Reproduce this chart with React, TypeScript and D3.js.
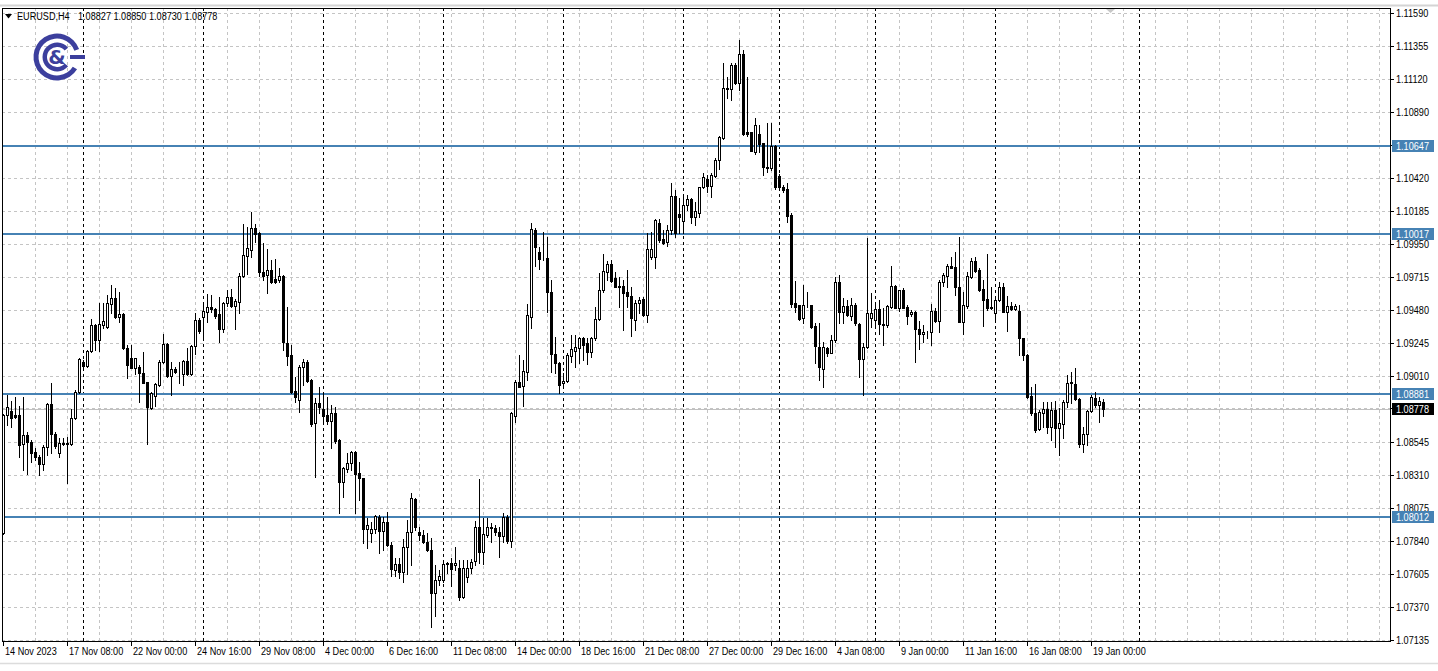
import React from 'react';
import * as d3 from 'd3';

// ---- Data (EURUSD H4) ----
const opens = [
  1.07895, 1.08733, 1.08762, 1.08733, 1.08733, 1.08525, 1.08591, 1.08544, 1.08473, 1.08437,
  1.08383, 1.08509, 1.08809, 1.08600, 1.08461, 1.08532, 1.08530, 1.08525, 1.08710, 1.08894,
  1.09112, 1.09083, 1.09188, 1.09373, 1.09266, 1.09373, 1.09361, 1.09520, 1.09563, 1.09432,
  1.09449, 1.09207, 1.09136, 1.09069, 1.09077, 1.09029, 1.08965, 1.08785, 1.08871, 1.08946,
  1.09108, 1.09238, 1.09013, 1.09058, 1.09025, 1.09022, 1.09117, 1.09025, 1.09224, 1.09408,
  1.09432, 1.09467, 1.09498, 1.09486, 1.09449, 1.09342, 1.09532, 1.09574, 1.09508, 1.09538,
  1.09721, 1.09863, 1.09906, 1.10060, 1.10024, 1.09752, 1.09728, 1.09764, 1.09700, 1.09693,
  1.09721, 1.09247, 1.09160, 1.08904, 1.08840, 1.09077, 1.09112, 1.08982, 1.08674, 1.08816,
  1.08774, 1.08733, 1.08693, 1.08745, 1.08556, 1.08255, 1.08348, 1.08390, 1.08473, 1.08319,
  1.08284, 1.07921, 1.07893, 1.07921, 1.08011, 1.07911, 1.07976, 1.07810, 1.07632, 1.07672,
  1.07615, 1.07798, 1.07900, 1.08137, 1.07905, 1.07881, 1.07833, 1.07774, 1.07467, 1.07561,
  1.07561, 1.07684, 1.07684, 1.07670, 1.07644, 1.07442, 1.07580, 1.07649, 1.07696, 1.07935,
  1.07762, 1.07881, 1.07933, 1.07933, 1.07905, 1.07876, 1.08011, 1.07841, 1.08726, 1.08970,
  1.08941, 1.09041, 1.09432, 1.10048, 1.09894, 1.09842, 1.09847, 1.09605, 1.09167, 1.09101,
  1.08958, 1.08975, 1.09155, 1.09190, 1.09212, 1.09278, 1.09243, 1.09183, 1.09278, 1.09413,
  1.09622, 1.09752, 1.09806, 1.09705, 1.09645, 1.09650, 1.09610, 1.09579, 1.09408, 1.09527,
  1.09556, 1.09444, 1.09858, 1.09858, 1.10100, 1.09982, 1.09965, 1.10048, 1.10290, 1.10162,
  1.10114, 1.10225, 1.10266, 1.10142, 1.10171, 1.10351, 1.10408, 1.10363, 1.10434, 1.10545,
  1.10699, 1.11055, 1.11050, 1.11220, 1.11090, 1.11298, 1.10742, 1.10742, 1.10604, 1.10728,
  1.10664, 1.10498, 1.10486, 1.10645, 1.10432, 1.10351, 1.10339, 1.10154, 1.09527, 1.09513,
  1.09420, 1.09513, 1.09513, 1.09366, 1.09214, 1.09062, 1.09207, 1.09176, 1.09266, 1.09676,
  1.09468, 1.09508, 1.09437, 1.09515, 1.09380, 1.09129, 1.09214, 1.09420, 1.09408, 1.09484,
  1.09380, 1.09373, 1.09498, 1.09650, 1.09496, 1.09622, 1.09503, 1.09449, 1.09463, 1.09344,
  1.09307, 1.09321, 1.09321, 1.09472, 1.09403, 1.09676, 1.09721, 1.09792, 1.09783, 1.09645,
  1.09396, 1.09508, 1.09716, 1.09828, 1.09764, 1.09629, 1.09558, 1.09496, 1.09456, 1.09551,
  1.09645, 1.09468, 1.09508, 1.09484, 1.09472, 1.09278, 1.09160, 1.08869, 1.08745, 1.08632,
  1.08745, 1.08774, 1.08650, 1.08769, 1.08638, 1.08669, 1.08823, 1.08958, 1.08956, 1.08847,
  1.08525, 1.08596, 1.08762, 1.08857, 1.08804, 1.08827,
];

const highs = [
  1.08740, 1.08875, 1.08833, 1.08860, 1.08799, 1.08860, 1.08615, 1.08556, 1.08497, 1.08449,
  1.08520, 1.08816, 1.08958, 1.08615, 1.08568, 1.08568, 1.08579, 1.08776, 1.08911, 1.09141,
  1.09124, 1.09195, 1.09415, 1.09378, 1.09527, 1.09527, 1.09586, 1.09657, 1.09634, 1.09610,
  1.09456, 1.09230, 1.09230, 1.09141, 1.09089, 1.09179, 1.08970, 1.08899, 1.08963, 1.09124,
  1.09309, 1.09243, 1.09108, 1.09077, 1.09112, 1.09124, 1.09207, 1.09230, 1.09456, 1.09420,
  1.09515, 1.09593, 1.09586, 1.09491, 1.09574, 1.09538, 1.09622, 1.09627, 1.09556, 1.09740,
  1.10090, 1.10071, 1.10173, 1.10090, 1.10036, 1.09953, 1.09911, 1.09835, 1.09840, 1.09776,
  1.09728, 1.09503, 1.09230, 1.09006, 1.09089, 1.09129, 1.09124, 1.08987, 1.08852, 1.08935,
  1.08887, 1.08863, 1.08805, 1.08788, 1.08561, 1.08367, 1.08461, 1.08480, 1.08480, 1.08402,
  1.08289, 1.08000, 1.07976, 1.08023, 1.08023, 1.08011, 1.08047, 1.07833, 1.07715, 1.07715,
  1.07850, 1.07988, 1.08177, 1.08142, 1.07940, 1.07916, 1.07893, 1.07857, 1.07668, 1.07632,
  1.07693, 1.07690, 1.07719, 1.07798, 1.07703, 1.07703, 1.07703, 1.07708, 1.07983, 1.08279,
  1.08000, 1.08000, 1.07964, 1.07952, 1.07940, 1.08040, 1.08023, 1.08757, 1.08982, 1.09160,
  1.09124, 1.09522, 1.10095, 1.10060, 1.09930, 1.10036, 1.09996, 1.09693, 1.09290, 1.09112,
  1.09035, 1.09172, 1.09302, 1.09302, 1.09290, 1.09290, 1.09278, 1.09290, 1.09503, 1.09740,
  1.09877, 1.09828, 1.09835, 1.09752, 1.09716, 1.09693, 1.09764, 1.09645, 1.09551, 1.09570,
  1.09574, 1.10024, 1.10036, 1.10126, 1.10124, 1.10048, 1.10083, 1.10380, 1.10332, 1.10273,
  1.10297, 1.10297, 1.10273, 1.10249, 1.10356, 1.10451, 1.10439, 1.10451, 1.10557, 1.10716,
  1.11232, 1.11137, 1.11232, 1.11232, 1.11398, 1.11327, 1.11133, 1.10746, 1.10841, 1.10794,
  1.10668, 1.10806, 1.10806, 1.10652, 1.10446, 1.10368, 1.10380, 1.10171, 1.09688, 1.09515,
  1.09657, 1.09610, 1.09515, 1.09385, 1.09385, 1.09254, 1.09219, 1.09302, 1.09716, 1.09728,
  1.09563, 1.09551, 1.09563, 1.09532, 1.09385, 1.09243, 1.09989, 1.09598, 1.09527, 1.09551,
  1.09491, 1.09515, 1.09792, 1.09657, 1.09625, 1.09634, 1.09515, 1.09480, 1.09472, 1.09401,
  1.09373, 1.09330, 1.09520, 1.09491, 1.09693, 1.09740, 1.09804, 1.09854, 1.09894, 1.09996,
  1.09610, 1.09752, 1.09847, 1.09854, 1.09776, 1.09693, 1.09875, 1.09645, 1.09574, 1.09676,
  1.09669, 1.09582, 1.09534, 1.09520, 1.09515, 1.09283, 1.09165, 1.08935, 1.08952, 1.08769,
  1.08828, 1.08828, 1.08828, 1.08833, 1.08785, 1.08840, 1.09017, 1.09041, 1.09070, 1.08852,
  1.08650, 1.08769, 1.08875, 1.08895, 1.08863, 1.08850,
];

const lows = [
  1.07890, 1.08662, 1.08650, 1.08710, 1.08437, 1.08343, 1.08312, 1.08402, 1.08414, 1.08307,
  1.08343, 1.08449, 1.08461, 1.08497, 1.08437, 1.08520, 1.08248, 1.08520, 1.08704, 1.08887,
  1.09077, 1.09077, 1.09183, 1.09195, 1.09188, 1.09349, 1.09349, 1.09456, 1.09425, 1.09396,
  1.09202, 1.08998, 1.09065, 1.09022, 1.08828, 1.08958, 1.08525, 1.08776, 1.08799, 1.08941,
  1.09101, 1.09006, 1.08875, 1.09029, 1.08958, 1.08946, 1.09018, 1.09018, 1.09167, 1.09314,
  1.09266, 1.09396, 1.09467, 1.09420, 1.09254, 1.09325, 1.09508, 1.09503, 1.09342, 1.09456,
  1.09716, 1.09735, 1.09854, 1.09965, 1.09721, 1.09693, 1.09598, 1.09669, 1.09669, 1.09681,
  1.09195, 1.09089, 1.08887, 1.08828, 1.08757, 1.08946, 1.08970, 1.08655, 1.08291, 1.08745,
  1.08669, 1.08669, 1.08497, 1.08532, 1.08040, 1.08149, 1.08331, 1.08343, 1.08040, 1.08130,
  1.07822, 1.07786, 1.07833, 1.07893, 1.07751, 1.07774, 1.07803, 1.07589, 1.07589, 1.07573,
  1.07549, 1.07604, 1.07668, 1.07916, 1.07845, 1.07822, 1.07769, 1.07229, 1.07305, 1.07526,
  1.07549, 1.07609, 1.07517, 1.07632, 1.07419, 1.07431, 1.07549, 1.07609, 1.07668, 1.07680,
  1.07673, 1.07869, 1.07833, 1.07881, 1.07726, 1.07833, 1.07822, 1.07798, 1.08686, 1.08930,
  1.08798, 1.08982, 1.09349, 1.09792, 1.09769, 1.09835, 1.09468, 1.09041, 1.09029, 1.08887,
  1.08923, 1.08970, 1.09112, 1.09077, 1.09101, 1.09124, 1.09096, 1.09148, 1.09266, 1.09408,
  1.09610, 1.09693, 1.09681, 1.09641, 1.09498, 1.09337, 1.09503, 1.09295, 1.09337, 1.09460,
  1.09437, 1.09396, 1.09842, 1.09776, 1.09965, 1.09948, 1.09934, 1.10019, 1.10000, 1.10024,
  1.10029, 1.10190, 1.10095, 1.10083, 1.10142, 1.10344, 1.10320, 1.10285, 1.10427, 1.10479,
  1.10692, 1.10984, 1.10972, 1.11083, 1.11043, 1.10723, 1.10716, 1.10609, 1.10588, 1.10604,
  1.10439, 1.10462, 1.10474, 1.10337, 1.10337, 1.10320, 1.10107, 1.09503, 1.09467, 1.09408,
  1.09389, 1.09503, 1.09354, 1.09105, 1.08982, 1.08930, 1.09153, 1.09172, 1.09254, 1.09385,
  1.09385, 1.09437, 1.09408, 1.09373, 1.09006, 1.08875, 1.09207, 1.09361, 1.09361, 1.09309,
  1.09231, 1.09361, 1.09491, 1.09491, 1.09472, 1.09491, 1.09378, 1.09439, 1.09108, 1.09202,
  1.09254, 1.09278, 1.09231, 1.09396, 1.09321, 1.09650, 1.09645, 1.09776, 1.09586, 1.09392,
  1.09307, 1.09496, 1.09705, 1.09747, 1.09617, 1.09366, 1.09480, 1.09484, 1.09392, 1.09544,
  1.09463, 1.09333, 1.09480, 1.09480, 1.09160, 1.09124, 1.08857, 1.08733, 1.08615, 1.08627,
  1.08650, 1.08603, 1.08556, 1.08508, 1.08449, 1.08568, 1.08793, 1.08816, 1.08840, 1.08508,
  1.08468, 1.08520, 1.08757, 1.08792, 1.08682, 1.08730,
];

const closes = [
  1.08733, 1.08790, 1.08714, 1.08720, 1.08520, 1.08591, 1.08544, 1.08461, 1.08437, 1.08383,
  1.08509, 1.08809, 1.08596, 1.08515, 1.08532, 1.08530, 1.08532, 1.08710, 1.08899, 1.09129,
  1.09083, 1.09188, 1.09373, 1.09266, 1.09378, 1.09401, 1.09527, 1.09563, 1.09432, 1.09449,
  1.09207, 1.09089, 1.09069, 1.09136, 1.09029, 1.08963, 1.08788, 1.08888, 1.08954, 1.09108,
  1.09238, 1.09013, 1.09058, 1.09041, 1.09027, 1.09119, 1.09025, 1.09224, 1.09408, 1.09332,
  1.09473, 1.09498, 1.09484, 1.09439, 1.09342, 1.09527, 1.09574, 1.09508, 1.09544, 1.09723,
  1.09871, 1.09918, 1.10060, 1.10019, 1.09747, 1.09723, 1.09764, 1.09681, 1.09681, 1.09723,
  1.09250, 1.09155, 1.08895, 1.08864, 1.09077, 1.09108, 1.08977, 1.08669, 1.08816, 1.08788,
  1.08726, 1.08693, 1.08745, 1.08551, 1.08255, 1.08355, 1.08390, 1.08473, 1.08314, 1.08284,
  1.07921, 1.07952, 1.07921, 1.08016, 1.07911, 1.07976, 1.07810, 1.07637, 1.07672, 1.07615,
  1.07798, 1.07900, 1.08142, 1.07940, 1.07881, 1.07833, 1.07774, 1.07467, 1.07561, 1.07589,
  1.07675, 1.07677, 1.07641, 1.07684, 1.07442, 1.07644, 1.07649, 1.07691, 1.07935, 1.07762,
  1.07886, 1.07940, 1.07935, 1.07900, 1.07876, 1.08007, 1.07841, 1.08745, 1.08970, 1.08935,
  1.09046, 1.09444, 1.10053, 1.09925, 1.09842, 1.09840, 1.09605, 1.09167, 1.09101, 1.08946,
  1.08977, 1.09160, 1.09200, 1.09219, 1.09278, 1.09231, 1.09183, 1.09278, 1.09413, 1.09622,
  1.09757, 1.09806, 1.09688, 1.09645, 1.09647, 1.09602, 1.09579, 1.09420, 1.09527, 1.09551,
  1.09444, 1.09913, 1.09913, 1.10119, 1.09977, 1.09958, 1.10048, 1.10290, 1.10024, 1.10138,
  1.10225, 1.10266, 1.10142, 1.10185, 1.10351, 1.10422, 1.10363, 1.10439, 1.10545, 1.10706,
  1.11055, 1.11048, 1.11220, 1.11090, 1.11298, 1.10730, 1.10730, 1.10611, 1.10794, 1.10659,
  1.10493, 1.10486, 1.10645, 1.10356, 1.10356, 1.10332, 1.10149, 1.09522, 1.09503, 1.09413,
  1.09513, 1.09515, 1.09361, 1.09224, 1.09072, 1.09219, 1.09176, 1.09266, 1.09681, 1.09468,
  1.09508, 1.09444, 1.09515, 1.09385, 1.09129, 1.09214, 1.09460, 1.09460, 1.09484, 1.09380,
  1.09370, 1.09508, 1.09650, 1.09496, 1.09622, 1.09496, 1.09439, 1.09463, 1.09344, 1.09307,
  1.09321, 1.09323, 1.09472, 1.09403, 1.09676, 1.09728, 1.09792, 1.09780, 1.09641, 1.09396,
  1.09515, 1.09721, 1.09828, 1.09757, 1.09622, 1.09551, 1.09496, 1.09498, 1.09551, 1.09645,
  1.09468, 1.09508, 1.09484, 1.09508, 1.09278, 1.09160, 1.08864, 1.08745, 1.08627, 1.08752,
  1.08774, 1.08646, 1.08769, 1.08643, 1.08674, 1.08828, 1.08958, 1.08967, 1.08847, 1.08525,
  1.08596, 1.08762, 1.08864, 1.08804, 1.08833, 1.08778,
];

const priceTicks = [
  1.11590, 1.11355, 1.11120, 1.10890, 1.10655, 1.10420, 1.10185, 1.09950, 1.09715, 1.09480,
  1.09245, 1.09010, 1.08780, 1.08545, 1.08310, 1.08075, 1.07840, 1.07605, 1.07370, 1.07135,
];

const timeLabels = [
  '14 Nov 2023', '17 Nov 08:00', '22 Nov 00:00', '24 Nov 16:00', '29 Nov 08:00', '4 Dec 00:00',
  '6 Dec 16:00', '11 Dec 08:00', '14 Dec 00:00', '18 Dec 16:00', '21 Dec 08:00', '27 Dec 00:00',
  '29 Dec 16:00', '4 Jan 08:00', '9 Jan 00:00', '11 Jan 16:00', '16 Jan 08:00', '19 Jan 00:00',
];

const levelLines = [1.10647, 1.10017, 1.08881, 1.08012];
const weekSeparators = [20, 50, 80, 110, 140, 170, 194, 218, 248, 284];
const symbolName = 'EURUSD,H4';

const W = 1438;
const H = 671;
const FONT = '"Liberation Sans", Arial, sans-serif';
const BLUE = '#4682b4';
const LOGO = '#3c3f9d';
const SX = 0.83; // narrow glyphs, like the terminal's UI font

function NText({ x, y, children, fill = '#000', size = 11 }: { x: number; y: number; children: any; fill?: string; size?: number }) {
  return (
    <text transform={`translate(${x},${y}) scale(${SX},1)`} fontSize={size} fill={fill}>
      {children}
    </text>
  );
}

export default function App() {
  const n = opens.length;
  const frame = { left: 2, top: 8, right: 1390, bottom: 641 };
  const y = d3.scaleLinear().domain([1.07135, 1.1159]).range([640, 13]);
  const x = d3.scaleLinear().domain([0, n - 1]).range([3, 3 + 4 * (n - 1)]);
  const py = (v: number) => Math.round(y(v)) + 0.5;
  const px = (i: number) => Math.round(x(i)) + 0.5;

  const gridIdx = d3.range(8, 345, 8);
  const labelIdx = timeLabels.map((_, k) => k * 16);
  const last = n - 1;
  const lastPrice = closes[last];
  const fmt = (v: number) => v.toFixed(5);

  const outerArc = d3.arc()({ innerRadius: 18.5, outerRadius: 23.5, startAngle: Math.PI / 2 + 0.55, endAngle: Math.PI * 2.5 - 0.35 } as any) as string;
  const innerArc = d3.arc()({ innerRadius: 10, outerRadius: 14.5, startAngle: Math.PI / 2 + 0.7, endAngle: Math.PI * 2.5 - 0.7 } as any) as string;

  return (
    <svg width={W} height={H} style={{ position: 'absolute', left: 0, top: 0, background: '#fff' }} fontFamily={FONT}>
      <rect x={0} y={0} width={W} height={H} fill="#ffffff" />
      <line x1={0} x2={W} y1={5.5} y2={5.5} stroke="#d4d4d4" strokeWidth={2} />
      <line x1={0} x2={W} y1={663.5} y2={663.5} stroke="#dcdcdc" strokeWidth={1.5} />

      {/* grid */}
      <g stroke="#c4c4c4" strokeWidth={1} strokeDasharray="3,3">
        {priceTicks.map((t) => (
          <line key={'h' + t} x1={frame.left} x2={frame.right} y1={py(t)} y2={py(t)} />
        ))}
        {gridIdx.map((i) => (
          <line key={'v' + i} x1={px(i)} x2={px(i)} y1={frame.top} y2={frame.bottom} />
        ))}
      </g>

      {/* week separators */}
      <g stroke="#000" strokeWidth={1} strokeDasharray="3,3">
        {weekSeparators.map((i) => (
          <line key={'s' + i} x1={px(i)} x2={px(i)} y1={frame.top} y2={frame.bottom} />
        ))}
      </g>

      {/* current price line */}
      <line x1={frame.left} x2={frame.right} y1={py(lastPrice)} y2={py(lastPrice)} stroke="#c0c0c0" strokeWidth={1} />

      {/* level lines */}
      {levelLines.map((v) => (
        <line key={'l' + v} x1={frame.left} x2={frame.right} y1={Math.round(y(v))} y2={Math.round(y(v))} stroke={BLUE} strokeWidth={2} />
      ))}

      {/* candles */}
      <g>
        {opens.map((o, i) => {
          const c = closes[i];
          const hi = Math.max(highs[i], o, c);
          const lo = Math.min(lows[i], o, c);
          const cx = px(i);
          const bull = c >= o;
          const yTop = Math.round(y(Math.max(o, c)));
          const yBot = Math.round(y(Math.min(o, c)));
          return (
            <g key={'c' + i}>
              <line x1={cx} x2={cx} y1={Math.round(y(hi))} y2={Math.round(y(lo)) + 1} stroke="#000" strokeWidth={1} />
              <rect x={cx - 1} y={yTop + 0.5} width={2} height={Math.max(0, yBot - yTop)} fill={bull ? '#fff' : '#000'} stroke="#000" strokeWidth={1} />
            </g>
          );
        })}
      </g>

      {/* frame */}
      <rect x={frame.left + 0.5} y={frame.top + 0.5} width={frame.right - frame.left} height={frame.bottom - frame.top} fill="none" stroke="#000" strokeWidth={1} />

      {/* chart shift marker */}
      <polygon points="1106,9 1115,9 1110.5,13" fill="#c8c8c8" />

      {/* price axis */}
      <g>
        {priceTicks.map((t) => (
          <g key={'p' + t}>
            <line x1={frame.right} x2={frame.right + 4} y1={py(t)} y2={py(t)} stroke="#000" />
            <NText x={1396} y={y(t) + 4}>{fmt(t)}</NText>
          </g>
        ))}
      </g>

      {/* level labels */}
      {levelLines.map((v) => (
        <g key={'lb' + v}>
          <rect x={1392} y={Math.round(y(v)) - 6} width={42} height={12} fill={BLUE} />
          <NText x={1396} y={Math.round(y(v)) + 4} fill="#fff">{fmt(v)}</NText>
        </g>
      ))}
      <rect x={1392} y={Math.round(y(lastPrice)) - 6} width={42} height={12} fill="#000" />
      <NText x={1396} y={Math.round(y(lastPrice)) + 4} fill="#fff">{fmt(lastPrice)}</NText>

      {/* time axis */}
      <g>
        {labelIdx.map((i, k) => (
          <g key={'t' + i}>
            <line x1={px(i)} x2={px(i)} y1={frame.bottom} y2={frame.bottom + 5} stroke="#000" />
            <NText x={px(i) + 1.5} y={655}>{timeLabels[k]}</NText>
          </g>
        ))}
      </g>

      {/* header */}
      <polygon points="5,14 12,14 8.5,18.5" fill="#000" />
      <NText x={17} y={19.5}>{symbolName}</NText>
      <NText x={78} y={19.5}>{[opens[last], highs[last], lows[last], closes[last]].map(fmt).join(' ')}</NText>

      {/* logo */}
      <g transform="translate(57,57)">
        <path d={outerArc} fill={LOGO} />
        <path d={innerArc} fill={LOGO} />
        <text x={0} y={7} textAnchor="middle" fontSize={20} fontWeight="bold" fill={LOGO} fontFamily='"DejaVu Sans", sans-serif'>&amp;</text>
        <rect x={13} y={-2} width={15} height={4} fill={LOGO} />
      </g>
    </svg>
  );
}
